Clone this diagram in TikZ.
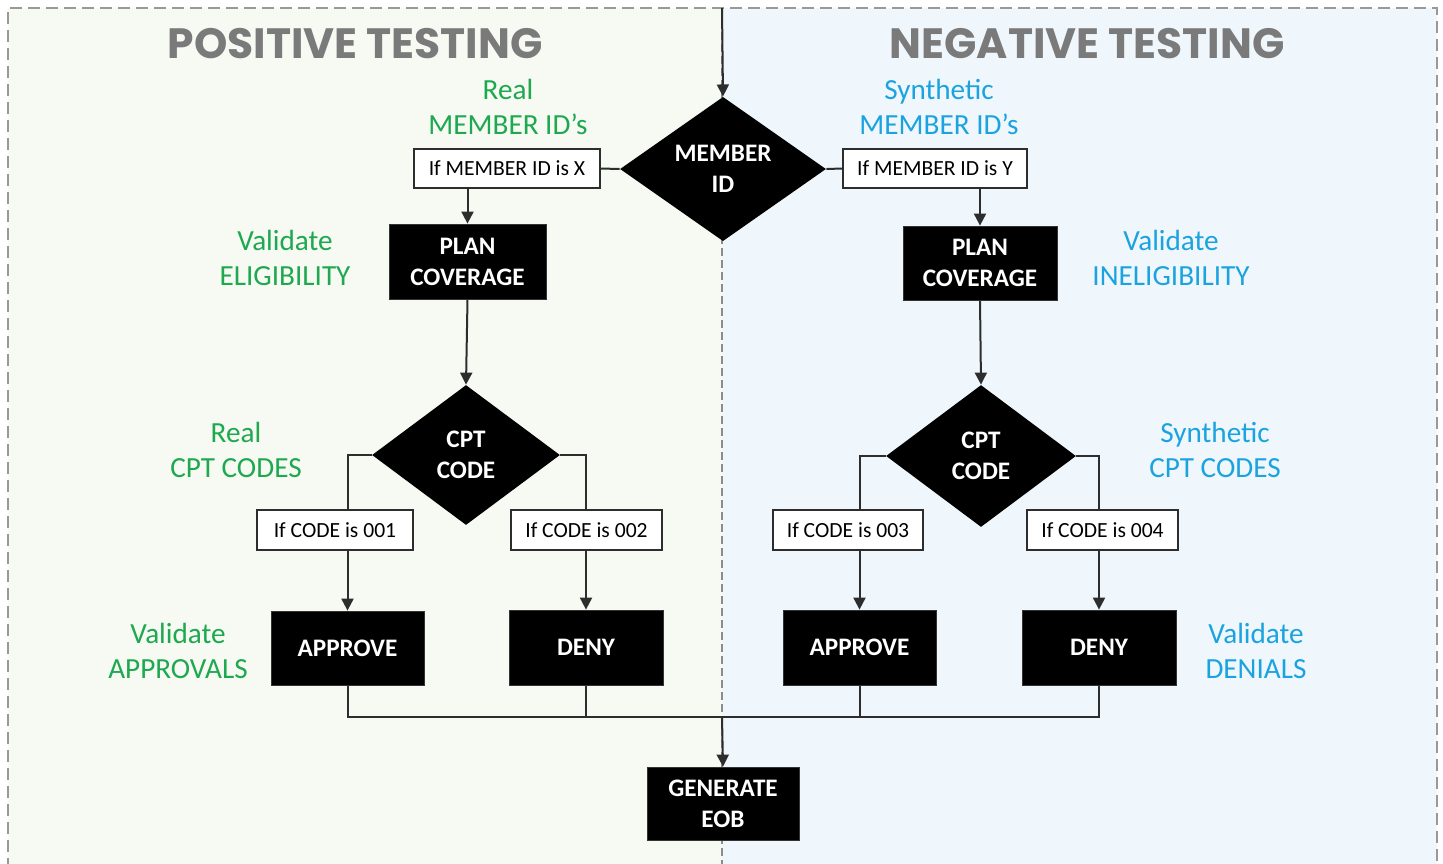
\documentclass[tikz,border=0pt]{standalone}
\usepackage{fontspec}
\setmainfont{Carlito}
\newfontfamily\titlefont{Poppins}
\usetikzlibrary{shapes.geometric,arrows.meta}
\definecolor{posgreen}{RGB}{30,168,80}
\definecolor{negblue}{RGB}{27,163,224}
\definecolor{titlegray}{RGB}{122,122,122}
\definecolor{leftbg}{RGB}{247,250,242}
\definecolor{rightbg}{RGB}{239,247,252}
\definecolor{linegray}{RGB}{45,45,45}
\pgfdeclarelayer{back}
\pgfdeclarelayer{conn}
\pgfsetlayers{back,conn,main}
\tikzset{
  blackbox/.style={rectangle,fill=black,draw=black!80,text=white,font=\fontsize{12.6}{15.5}\selectfont\bfseries,align=center,inner sep=0pt},
  decision/.style={diamond,fill=black,text=white,font=\fontsize{12.6}{15.5}\selectfont\bfseries,align=center,inner sep=0pt},
  condbox/.style={rectangle,fill=white,draw=linegray,line width=0.7pt,font=\fontsize{10.8}{13}\selectfont,inner sep=0pt},
  poslabel/.style={text=posgreen,font=\fontsize{14.6}{17.5}\selectfont,align=center},
  neglabel/.style={text=negblue,font=\fontsize{14.6}{17.5}\selectfont,align=center},
  heading/.style={text=titlegray,font=\titlefont\bfseries\fontsize{21.2}{24}\selectfont},
  conn/.style={draw=linegray,line width=1pt},
  arr/.style={conn,-{Triangle[length=6pt,width=6pt]}},
  frame/.style={draw=black!40,line width=0.8pt,dash pattern=on 6pt off 3pt}
}
\begin{document}
\begin{tikzpicture}[x=0.5pt,y=-0.5pt]
\useasboundingbox (0,0) rectangle (1443,863);
% panels
\begin{pgfonlayer}{back}
\fill[leftbg] (8,8) rectangle (722,870);
\fill[rightbg] (722,8) rectangle (1437,870);
\draw[frame] (8,870) -- (8,8) -- (1437,8) -- (1437,870);
\draw[draw=black!45,line width=0.6pt,dash pattern=on 4pt off 2pt] (722,8) -- (722,870);
\end{pgfonlayer}
% headings
\node[heading] (hpos) at (355,44) {POSITIVE TESTING};
\node[heading] (hneg) at (1087,44) {NEGATIVE TESTING};
% coordinates
\coordinate (top) at (722,8);
\coordinate (merge) at (722,717);
% main decision
\node[decision,minimum width=103pt,minimum height=71.5pt] (mid) at (723,169) {MEMBER\\ID};
\node[condbox,minimum width=93pt,minimum height=19.5pt] (idx) at (507,168.5) {If MEMBER ID is X};
\node[condbox,minimum width=92pt,minimum height=19.5pt] (idy) at (935,168.5) {If MEMBER ID is Y};
\node[poslabel] (lreal) at (508,107) {Real\\MEMBER ID’s};
\node[neglabel] (lsyn) at (939,107) {Synthetic\\MEMBER ID’s};
% plan coverage
\node[blackbox,minimum width=78.5pt,minimum height=37.5pt] (planL) at (467.5,261.5) {PLAN\\COVERAGE};
\node[blackbox,minimum width=77pt,minimum height=37pt] (planR) at (980,263) {PLAN\\COVERAGE};
\node[poslabel] (lelig) at (285,258) {Validate\\ELIGIBILITY};
\node[neglabel] (linelig) at (1171,258) {Validate\\INELIGIBILITY};
% CPT decisions
\node[decision,minimum width=94pt,minimum height=70pt] (cptL) at (466,455) {CPT\\CODE};
\node[decision,minimum width=95pt,minimum height=71pt] (cptR) at (981,456) {CPT\\CODE};
\node[poslabel] (lcptL) at (236,450) {Real\\CPT CODES};
\node[neglabel] (lcptR) at (1215,450) {Synthetic\\CPT CODES};
% condition boxes
\node[condbox,minimum width=78pt,minimum height=20pt] (c1) at (335,530) {If CODE is 001};
\node[condbox,minimum width=75.5pt,minimum height=20pt] (c2) at (586.5,530) {If CODE is 002};
\node[condbox,minimum width=75pt,minimum height=20pt] (c3) at (848,530) {If CODE is 003};
\node[condbox,minimum width=75.5pt,minimum height=20pt] (c4) at (1102.5,530) {If CODE is 004};
% outcomes
\node[blackbox,minimum width=76.5pt,minimum height=37pt] (apL) at (347.5,648) {APPROVE};
\node[blackbox,minimum width=77pt,minimum height=37.5pt] (dnL) at (586,647.5) {DENY};
\node[blackbox,minimum width=76.5pt,minimum height=37.5pt] (apR) at (859.5,647.5) {APPROVE};
\node[blackbox,minimum width=77pt,minimum height=37.5pt] (dnR) at (1099,647.5) {DENY};
\node[poslabel] (lappr) at (178,651) {Validate\\APPROVALS};
\node[neglabel] (lden) at (1256,651) {Validate\\DENIALS};
% final
\node[blackbox,minimum width=76pt,minimum height=36.5pt] (eob) at (723,803.5) {GENERATE\\EOB};
% connectors
\begin{pgfonlayer}{conn}
\draw[arr] (top) -- (mid.north);
\draw[conn] (idx.east) -- (mid.west);
\draw[conn] (idy.west) -- (mid.east);
\draw[arr] (idx.south -| planL.north) -- (planL.north);
\draw[arr] (idy.south -| planR.north) -- (planR.north);
\draw[arr] (planL.south) -- (cptL.north);
\draw[arr] (planR.south) -- (cptR.north);
\draw[arr] (cptL.west) -| (apL.north);
\draw[arr] (cptL.east) -| (dnL.north);
\draw[arr] (cptR.west) -| (apR.north);
\draw[arr] (cptR.east) -| (dnR.north);
\draw[conn] (apL.south) |- (merge) -| (dnR.south);
\draw[conn] (dnL.south) -- (dnL.south |- merge);
\draw[conn] (apR.south) -- (apR.south |- merge);
\draw[arr] (merge) -- (eob.north);
\end{pgfonlayer}
\end{tikzpicture}
\end{document}
